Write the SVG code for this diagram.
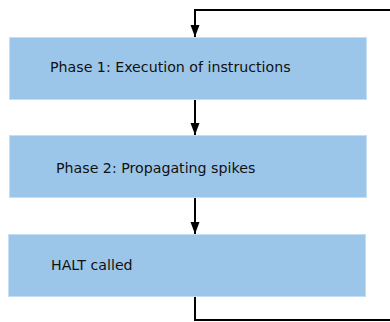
<svg xmlns="http://www.w3.org/2000/svg" width="390" height="322" viewBox="0 0 390 322">
<style>
.box{fill:#9cc6e9;stroke:#c4def3;stroke-width:1}
.lbl{font-family:"DejaVu Sans",sans-serif;font-size:14.2px;fill:#111}
.conn{fill:none;stroke:#000;stroke-width:2}
</style>
<defs>
<marker id="ah" viewBox="0 0 12 10" refX="12" refY="5" markerWidth="12" markerHeight="10" markerUnits="userSpaceOnUse" orient="auto">
<path d="M0,0.5 L12,5 L0,9.5 Z" fill="#000"/>
</marker>
</defs>
<g id="connectors">
<path class="conn" d="M195,99 V135" marker-end="url(#ah)"/>
<path class="conn" d="M195,197 V234" marker-end="url(#ah)"/>
<path class="conn" d="M195,296 V320 H392 M392,10 H195 V37" marker-end="url(#ah)"/>
</g>
<g id="n1"><rect class="box" x="9.5" y="37.5" width="357" height="62"/><text class="lbl" x="50" y="72">Phase 1: Execution of instructions</text></g>
<g id="n2"><rect class="box" x="9.5" y="135.5" width="357" height="62"/><text class="lbl" x="56" y="173">Phase 2: Propagating spikes</text></g>
<g id="n3"><rect class="box" x="8.5" y="234.5" width="357" height="62"/><text class="lbl" x="51" y="270">HALT called</text></g>
</svg>
